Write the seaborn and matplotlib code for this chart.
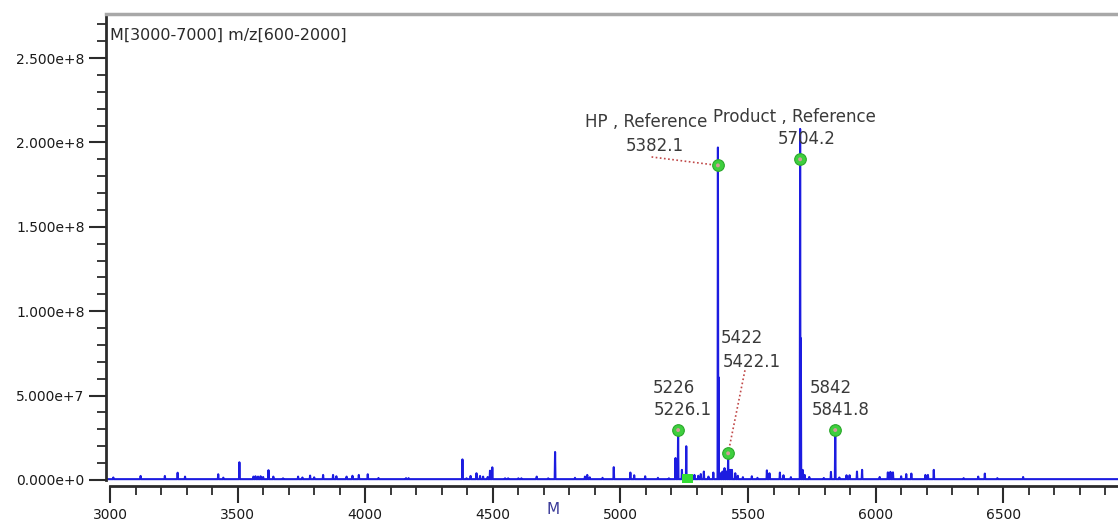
import numpy as np
import pandas as pd
import matplotlib
matplotlib.use("Agg")
import matplotlib.pyplot as plt
from matplotlib.ticker import MultipleLocator, FuncFormatter
import seaborn as sns

# Deconvoluted mass spectrum: peak masses (Da) and intensities (counts)
peak_mz = [3013, 3120, 3215, 3265, 3294, 3424, 3444, 3507, 3562, 3570, 3580, 3590, 3600,
           3621, 3640, 3678, 3737, 3754, 3784, 3800, 3835, 3874, 3887, 3927, 3950, 3975,
           4010, 4052, 4160, 4170, 4381, 4397, 4413, 4436, 4450, 4462, 4480, 4489, 4498,
           4548, 4560, 4600, 4612, 4672, 4717, 4744, 4822, 4861, 4870, 4880, 4930, 4974,
           5039, 5054, 5097, 5147, 5190, 5216, 5226.1, 5241, 5258, 5275, 5290, 5305, 5315,
           5327, 5345, 5364, 5382.1, 5384, 5393, 5400, 5408, 5415, 5422.1, 5430, 5437, 5450,
           5460, 5480, 5515, 5537, 5574, 5584, 5625, 5639, 5668, 5704.2, 5707, 5714, 5722,
           5740, 5797, 5825, 5841.8, 5858, 5886, 5898, 5927, 5947, 6016, 6048, 6058, 6068,
           6100, 6120, 6140, 6195, 6205, 6228, 6345, 6402, 6428, 6477, 6578]
peak_int = [1.5e6, 2.4e6, 2.4e6, 4.3e6, 2.0e6, 3.4e6, 1.4e6, 1.05e7, 2.0e6, 2.2e6, 2.0e6, 2.2e6, 1.8e6,
            5.8e6, 2.0e6, 1.0e6, 2.0e6, 1.5e6, 2.6e6, 1.6e6, 3.0e6, 3.0e6, 2.2e6, 2.0e6, 2.5e6, 3.0e6,
            3.4e6, 1.2e6, 1.1e6, 1.1e6, 1.22e7, 1.0e6, 2.4e6, 4.0e6, 2.4e6, 2.0e6, 1.8e6, 5.5e6, 7.5e6,
            1.0e6, 1.0e6, 1.0e6, 1.0e6, 2.0e6, 1.0e6, 1.66e7, 1.3e6, 2.0e6, 3.0e6, 1.6e6, 1.3e6, 7.6e6,
            4.4e6, 2.8e6, 2.2e6, 1.3e6, 1.0e6, 1.3e7, 3.0e7, 6.0e6, 2.0e7, 2.5e6, 3.0e6, 2.5e6, 3.5e6,
            5.0e6, 2.0e6, 4.4e6, 1.97e8, 6.1e7, 4.0e6, 5.0e6, 7.0e6, 5.0e6, 1.35e7, 6.0e6, 6.0e6, 4.0e6,
            2.5e6, 1.7e6, 2.2e6, 1.3e6, 5.7e6, 4.0e6, 4.4e6, 2.8e6, 1.7e6, 2.08e8, 8.4e7, 6.0e6, 3.0e6,
            1.8e6, 1.2e6, 4.8e6, 3.0e7, 1.5e6, 2.8e6, 2.8e6, 5.0e6, 6.0e6, 1.8e6, 4.5e6, 4.8e6, 4.5e6,
            2.2e6, 3.5e6, 3.8e6, 3.0e6, 3.0e6, 6.0e6, 1.1e6, 2.0e6, 3.8e6, 1.1e6, 1.8e6]

# Identified components (green markers) and their labels
marker_mz = [5226.1, 5382.1, 5422.1, 5704.2, 5841.8]
marker_int = [2.96e7, 1.864e8, 1.58e7, 1.90e8, 2.96e7]
label_top = ["5226", "HP , Reference", "5422", "Product , Reference", "5842"]
label_mass = ["5226.1", "5382.1", "5422.1", "5704.2", "5841.8"]
label_top_pos = [(5210, 5.45e7), (5100, 2.121e8), (5476, 8.41e7), (5680, 2.150e8), (5825, 5.45e7)]
label_mass_pos = [(5245, 4.15e7), (5136, 1.979e8), (5516, 6.99e7), (5731, 2.020e8), (5864, 4.15e7)]

# Leader lines from labels to peaks
hp_leader_mz = [5122, 5382.1]
hp_leader_int = [1.914e8, 1.864e8]
p5422_leader_mz = [5488, 5422.1]
p5422_leader_int = [6.5e7, 1.58e7]

# Unassigned component near the baseline
baseline_mark_mz = [5263]
baseline_mark_int = [0.4e6]

title_text = "M[3000-7000] m/z[600-2000]"
x_ticks = [3000, 3500, 4000, 4500, 5000, 5500, 6000, 6500]

sns.set_style("white")
plt.rcParams["font.family"] = ["DejaVu Sans"]

# Expand peak list into a stick spectrum on a flat baseline
base = 5e5
hw = 1.5
xs, ys = [2990.0], [base]
for m, h in zip(peak_mz, peak_int):
    xs += [m - hw, m, m + hw]
    ys += [base, h, base]
xs.append(6960.0)
ys.append(base)
spec = pd.DataFrame({"mass": xs, "intensity": ys})

W, H = 1118, 525
fig = plt.figure(figsize=(W / 100, H / 100), dpi=100)
ax = fig.add_axes([106 / W, 1 - 483 / H, 1012 / W, (483 - 14) / H])

sns.lineplot(data=spec, x="mass", y="intensity", sort=False, estimator=None,
             color="#1c1ce0", lw=1.5, ax=ax)

# Leader lines
ax.plot(hp_leader_mz, hp_leader_int, ls=(0, (1, 1.5)), color="#c04848", lw=1.2, zorder=3)
ax.plot(p5422_leader_mz, p5422_leader_int, ls=(0, (1, 1.5)), color="#c04848", lw=1.2, zorder=3)

# Component markers
sns.scatterplot(x=marker_mz, y=marker_int, s=70, color="#3ecf3e", edgecolor="#2aa82a",
                linewidth=0.8, ax=ax, zorder=4)
sns.scatterplot(x=marker_mz, y=marker_int, s=8, color="#d49a9a", edgecolor="none",
                ax=ax, zorder=5)
sns.scatterplot(x=baseline_mark_mz, y=baseline_mark_int, s=70, marker="s", color="#33dd33",
                edgecolor="none", ax=ax, zorder=4)

for t, (x, y) in zip(label_top, label_top_pos):
    ax.text(x, y, t, ha="center", va="center", fontsize=12, color="#3a3a3a", zorder=6)
for t, (x, y) in zip(label_mass, label_mass_pos):
    ax.text(x, y, t, ha="center", va="center", fontsize=12, color="#3a3a3a", zorder=6)

ax.text(3000, 2.636e8, title_text, ha="left", va="center", fontsize=11.5, color="#2a2a2a")

# Axes limits and ticks
ax.set_xlim(2984.3, 6949.8)
ax.set_ylim(-1.78e6, 2.761e8)
ax.set_xticks(x_ticks)
ax.xaxis.set_minor_locator(MultipleLocator(100))
ax.yaxis.set_major_locator(MultipleLocator(5e7))
ax.yaxis.set_minor_locator(MultipleLocator(1e7))


def sci_fmt(v, pos):
    if v == 0:
        return "0.000e+0"
    e = int(np.floor(np.log10(abs(v))))
    return f"{v / 10 ** e:.3f}e+{e}"


ax.yaxis.set_major_formatter(FuncFormatter(sci_fmt))
ax.tick_params(axis="both", which="both", bottom=True, left=True, top=False, right=False)
ax.tick_params(axis="both", which="major", direction="out", length=12, width=1.5,
               color="#2b2b2b", labelcolor="#1a1a1a", labelsize=10, pad=3.5)
ax.tick_params(axis="both", which="minor", direction="out", length=6.5, width=1.3,
               color="#2b2b2b")

ax.spines["right"].set_visible(False)
ax.spines["left"].set_color("#2b2b2b")
ax.spines["left"].set_linewidth(2)
ax.spines["left"].set_bounds(0, 2.761e8)
ax.spines["bottom"].set_color("#2b2b2b")
ax.spines["bottom"].set_linewidth(2)
ax.spines["bottom"].set_position(("outward", 2.5))
ax.spines["bottom"].set_bounds(3000, 6949.8)
ax.spines["top"].set_color("#a8a8a8")
ax.spines["top"].set_linewidth(2.5)

ax.set_ylabel("")
ax.set_xlabel("M", fontsize=11, color="#3a3a99")
ax.xaxis.label.set_va("center")
ax.xaxis.set_label_coords((553 - 106) / 1012, (483 - 509) / 469)

fig.savefig("out.png", dpi=100)
